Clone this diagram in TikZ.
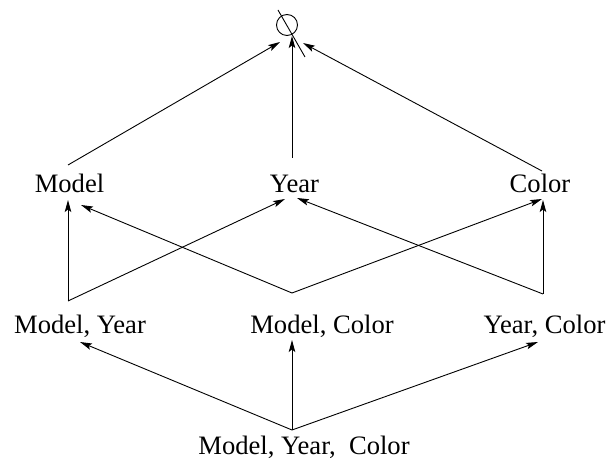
\documentclass[tikz,border=0pt]{standalone}
\usepackage{fontspec}
\setmainfont{Liberation Serif}
\usetikzlibrary{arrows.meta}
\begin{document}
\begin{tikzpicture}[x=1pt,y=-1pt,
  lbl/.style={anchor=base,inner sep=0pt,font=\fontsize{26.6}{30}\selectfont},
  thin line/.style={line width=0.9pt},
  edge/.style={thin line,-{Stealth[length=12pt,width=6.5pt,inset=2.5pt]}}]
\useasboundingbox (0,0) rectangle (611,462);

% empty set at the top of the lattice
\node[circle,draw,thin line,minimum size=21pt,inner sep=0pt] (empty) at (287,25) {};
\coordinate (slashA) at (278,10);
\coordinate (slashB) at (305,57);
\draw[thin line] (slashA) -- (slashB);

% lattice labels
\node[lbl] (m)   at (69.5,193) {Model};
\node[lbl] (y)   at (294.5,193) {Year};
\node[lbl] (c)   at (540,193) {Color};
\node[lbl] (my)  at (80,334) {Model, Year};
\node[lbl] (mc)  at (322,334) {Model, Color};
\node[lbl] (yc)  at (544.5,334) {Year, Color};
\node[lbl] (myc) at (304,455) {Model, Year,\ \ Color};

% connection points
\coordinate (m-up)   at (68,165);
\coordinate (y-up)   at (292,158);
\coordinate (c-up)   at (542,171);
\coordinate (e-l)    at (280,42);
\coordinate (e-m)    at (292,36);
\coordinate (e-r)    at (303,43);

\coordinate (m-in)   at (68,200);
\coordinate (m-in2)  at (81,205);
\coordinate (y-in)   at (285,199);
\coordinate (y-in2)  at (297,198);
\coordinate (c-in)   at (542,199);
\coordinate (c-in2)  at (543,200);

\coordinate (my-up)  at (68,301);
\coordinate (mc-up)  at (292,293);
\coordinate (yc-up)  at (543,294);

\coordinate (my-in)  at (80,342);
\coordinate (mc-in)  at (292,340);
\coordinate (yc-in)  at (538,342);
\coordinate (myc-up) at (292,430);

% single attributes -> empty set
\draw[edge] (m-up) -- (e-l);
\draw[edge] (y-up) -- (e-m);
\draw[edge] (c-up) -- (e-r);

% pairs -> single attributes
\draw[edge] (my-up) -- (m-in);
\draw[edge] (my-up) -- (y-in);
\draw[edge] (mc-up) -- (m-in2);
\draw[edge] (mc-up) -- (c-in);
\draw[edge] (yc-up) -- (y-in2);
\draw[edge] (yc-up) -- (c-in2);

% triple -> pairs
\draw[edge] (myc-up) -- (my-in);
\draw[edge] (myc-up) -- (mc-in);
\draw[edge] (myc-up) -- (yc-in);
\end{tikzpicture}
\end{document}
